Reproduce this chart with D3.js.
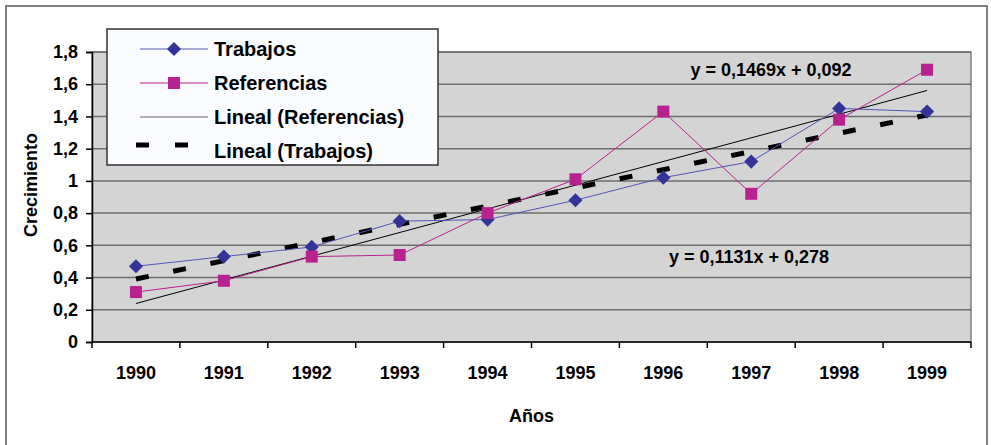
<!DOCTYPE html>
<html>
<head>
<meta charset="utf-8">
<script src="https://cdn.jsdelivr.net/npm/d3@7"></script>
<style>
	body { margin: 0; background: #fff; }
	text { font-family: "Liberation Sans", Arial, sans-serif; font-weight: bold; fill: #000; }
</style>
</head>
<body>
<svg id="chart" width="991" height="445"></svg>
<script>
// data
var years = ["1990", "1991", "1992", "1993", "1994", "1995", "1996", "1997", "1998", "1999"];
var trabajos = [0.47, 0.53, 0.59, 0.75, 0.76, 0.88, 1.02, 1.12, 1.45, 1.43];
var referencias = [0.31, 0.38, 0.53, 0.54, 0.80, 1.01, 1.43, 0.92, 1.38, 1.69];
var yTicks = [0, 0.2, 0.4, 0.6, 0.8, 1, 1.2, 1.4, 1.6, 1.8];
// trend coefficients (slope, intercept) as printed on the chart
var trendRef = [0.1469, 0.092];
var trendTrab = [0.1131, 0.278];
var legendLabels = ["Trabajos", "Referencias", "Lineal (Referencias)", "Lineal (Trabajos)"];

var blue = "#333399", magenta = "#b8228e";

var svg = d3.select("#chart");
var fmt = d => String(d).replace(".", ",");

// outer frame
svg.append("rect")
	.attr("x", 6).attr("y", 6).attr("width", 981).attr("height", 460)
	.attr("fill", "#fff").attr("stroke", "#808080").attr("stroke-width", 2);

var pLeft = 92, pRight = 971, pTop = 52, pBottom = 342;

var x = d3.scaleBand().domain(years).range([pLeft, pRight]);
var y = d3.scaleLinear().domain([0, 1.8]).range([pBottom, pTop]);
var cx = d => x(d) + x.bandwidth() / 2;

// plot area
svg.append("rect")
	.attr("x", pLeft).attr("y", pTop).attr("width", pRight - pLeft).attr("height", pBottom - pTop)
	.attr("fill", "#d4d4d4").attr("stroke", "#808080").attr("stroke-width", 1.5);

// gridlines
svg.append("g").selectAll("line")
	.data(yTicks.slice(1))
	.enter().append("line")
		.attr("x1", pLeft).attr("x2", pRight)
		.attr("y1", d => y(d)).attr("y2", d => y(d))
		.attr("stroke", "#6e6e6e").attr("stroke-width", 1.5);

// y axis
var yAxis = svg.append("g")
	.attr("transform", `translate(${pLeft},0)`)
	.call(d3.axisLeft(y).tickValues(yTicks).tickFormat(fmt).tickSize(6).tickPadding(8));
yAxis.select(".domain").attr("stroke", "#000").attr("stroke-width", 1.5);
yAxis.selectAll(".tick line").attr("stroke", "#000").attr("stroke-width", 1.5);
yAxis.selectAll("text").style("font-size", "18px").attr("fill", "#000");

// x axis with ticks between categories
var xAxis = svg.append("g")
	.attr("transform", `translate(0,${pBottom})`);
xAxis.append("line")
	.attr("x1", pLeft).attr("x2", pRight).attr("stroke", "#000").attr("stroke-width", 1.5);
var bounds = years.map(d => x(d)).concat([pRight]);
xAxis.selectAll(".tk")
	.data(bounds)
	.enter().append("line")
		.attr("x1", d => d).attr("x2", d => d)
		.attr("y1", 0).attr("y2", 6)
		.attr("stroke", "#000").attr("stroke-width", 1.5);
xAxis.selectAll("text")
	.data(years)
	.enter().append("text")
		.attr("x", d => cx(d)).attr("y", 37)
		.attr("text-anchor", "middle")
		.style("font-size", "18px")
		.text(d => d);

// axis titles
svg.append("text")
	.attr("x", (pLeft + pRight) / 2).attr("y", 422)
	.attr("text-anchor", "middle").style("font-size", "18px")
	.text("Años");
svg.append("text")
	.attr("transform", "translate(37,185) rotate(-90)")
	.attr("text-anchor", "middle").style("font-size", "18px")
	.text("Crecimiento");

// trend lines, x = 1..10
function trendPts(c) {
	return [years[0], years[years.length - 1]].map((d, i) => {
		var k = i == 0 ? 1 : years.length;
		return [cx(d), y(c[0] * k + c[1])];
	});
}
var line = d3.line();

svg.append("path")
	.attr("d", line(trendPts(trendTrab)))
	.attr("stroke", "#000").attr("stroke-width", 5)
	.attr("stroke-dasharray", "13,25").attr("fill", "none");

svg.append("path")
	.attr("d", line(trendPts(trendRef)))
	.attr("stroke", "#000").attr("stroke-width", 1).attr("fill", "none");

// series lines
var seriesLine = d3.line().x((d, i) => cx(years[i])).y(d => y(d));
svg.append("path")
	.attr("d", seriesLine(trabajos))
	.attr("stroke", "#5555bb").attr("stroke-width", 1).attr("fill", "none");
svg.append("path")
	.attr("d", seriesLine(referencias))
	.attr("stroke", magenta).attr("stroke-width", 1).attr("fill", "none");

// a square turned 45 degrees gives the diamond marker
var diamond = d3.symbol().type(d3.symbolSquare).size(100);

svg.append("g").selectAll("path")
	.data(trabajos)
	.enter().append("path")
		.attr("d", diamond)
		.attr("transform", (d, i) => `translate(${cx(years[i])},${y(d)}) rotate(45)`)
		.attr("fill", blue);

svg.append("g").selectAll("rect")
	.data(referencias)
	.enter().append("rect")
		.attr("x", (d, i) => cx(years[i]) - 6).attr("y", d => y(d) - 6)
		.attr("width", 12).attr("height", 12)
		.attr("fill", magenta);

// equation labels
svg.append("text")
	.attr("x", 771).attr("y", 76).attr("text-anchor", "middle").style("font-size", "18px")
	.text("y = " + fmt(trendRef[0]) + "x + " + fmt(trendRef[1]));
svg.append("text")
	.attr("x", 749).attr("y", 263).attr("text-anchor", "middle").style("font-size", "18px")
	.text("y = " + fmt(trendTrab[0]) + "x + " + fmt(trendTrab[1]));

// legend
var lg = svg.append("g");
lg.append("rect")
	.attr("x", 107).attr("y", 29).attr("width", 331).attr("height", 136)
	.attr("fill", "#fbfcff").attr("stroke", "#333").attr("stroke-width", 1.5);

var rows = lg.selectAll("g.row")
	.data(legendLabels)
	.enter().append("g")
		.attr("transform", (d, i) => `translate(0,${49 + i * 34})`);

rows.append("text")
	.attr("x", 214).attr("y", 7)
	.style("font-size", "20px")
	.text(d => d);

rows.each(function(d, i) {
	var r = d3.select(this);
	if (i == 0) {
		r.append("line").attr("x1", 140).attr("x2", 208).attr("stroke", "#5555bb").attr("stroke-width", 1);
		r.append("path").attr("d", diamond).attr("transform", "translate(174,0) rotate(45)").attr("fill", blue);
	} else if (i == 1) {
		r.append("line").attr("x1", 140).attr("x2", 208).attr("stroke", magenta).attr("stroke-width", 1);
		r.append("rect").attr("x", 168).attr("y", -6).attr("width", 12).attr("height", 12).attr("fill", magenta);
	} else if (i == 2) {
		r.append("line").attr("x1", 140).attr("x2", 208).attr("stroke", "#999").attr("stroke-width", 1.5);
	} else {
		r.append("line").attr("x1", 136).attr("x2", 190).attr("y1", -6).attr("y2", -6)
			.attr("stroke", "#000").attr("stroke-width", 5).attr("stroke-dasharray", "13,26");
	}
});
</script>
</body>
</html>
